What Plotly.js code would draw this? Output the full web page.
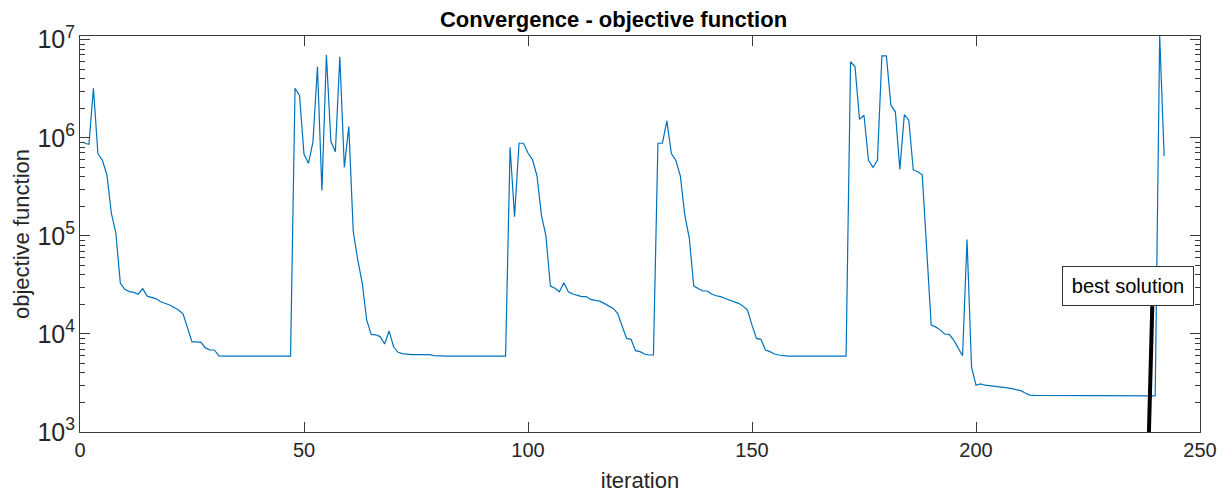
<!DOCTYPE html>
<html>
<head>
<meta charset="utf-8">
<script src="https://cdn.plot.ly/plotly-3.0.1.min.js"></script>
<style>
html,body{margin:0;padding:0;background:#fff;}
#chart{width:1227px;height:495px;}
</style>
</head>
<body>
<div id="chart"></div>
<script>
// Objective function value per iteration (iteration 1 .. 242)
const objective = [
  // iterations 1-47
  880000, 860000, 3200000, 690000, 590000, 420000, 170000, 107000, 33000, 28500,
  27000, 26500, 25400, 29000, 24300, 23700, 22800, 21300, 20500, 19700,
  18600, 17500, 16000, 11600, 8300, 8300, 8200, 7200, 6860, 6860,
  5960, 5950, 5950, 5950, 5950, 5950, 5950, 5950, 5950, 5950,
  5950, 5950, 5950, 5950, 5950, 5950, 5950,
  // iterations 48-95
  3200000, 2700000, 680000, 550000, 910000, 5300000, 290000, 7000000, 920000, 720000,
  6700000, 500000, 1300000, 110000, 57000, 33000, 13800, 9900, 9800, 9400,
  7900, 10700, 7400, 6500, 6300, 6200, 6150, 6150, 6150, 6150,
  6150, 6000, 5950, 5950, 5950, 5950, 5950, 5950, 5950, 5950,
  5950, 5950, 5950, 5950, 5950, 5950, 5950, 5950,
  // iterations 96-128
  800000, 157000, 880000, 880000, 700000, 600000, 410000, 163000, 100000, 30800,
  29200, 26900, 33300, 26900, 25500, 24800, 24000, 24000, 22500, 22000,
  21600, 20500, 19400, 18200, 16200, 11800, 9000, 8800, 6750, 6600,
  6240, 6100, 6100,
  // iterations 129-171
  880000, 880000, 1490000, 690000, 590000, 410000, 163000, 95000, 30800, 29200,
  27400, 27400, 25500, 24500, 24000, 23000, 22200, 21600, 20500, 19200,
  17500, 12300, 9000, 8800, 6850, 6600, 6240, 6100, 6000, 5950,
  5950, 5950, 5950, 5950, 5950, 5950, 5950, 5950, 5950, 5950,
  5950, 5950, 5950,
  // iterations 172-242
  5960000, 5300000, 1540000, 1700000, 590000, 500000, 590000, 6850000, 6850000, 2150000,
  1840000, 476000, 1720000, 1510000, 470000, 450000, 420000, 65000, 12300, 11800,
  11000, 9980, 9900, 8700, 7200, 6000, 92000, 4600, 3000, 3100,
  3000, 2970, 2930, 2900, 2860, 2820, 2770, 2720, 2640, 2500,
  2380, 2360, 2360, 2355, 2355, 2350, 2350, 2350, 2345, 2345,
  2345, 2340, 2340, 2340, 2340, 2335, 2335, 2335, 2335, 2335,
  2330, 2330, 2330, 2330, 2330, 2330, 2330, 2330, 2330, 11000000,
  650000
];

const titleText = 'Convergence - objective function';
const xLabel = 'iteration';
const yLabel = 'objective function';
const xTicks = [0, 50, 100, 150, 200, 250];
const yMajorTicks = [1e3, 1e4, 1e5, 1e6, 1e7];
const yMinorTicks = [
  2e3, 3e3, 4e3, 5e3, 6e3, 7e3, 8e3, 9e3,
  2e4, 3e4, 4e4, 5e4, 6e4, 7e4, 8e4, 9e4,
  2e5, 3e5, 4e5, 5e5, 6e5, 7e5, 8e5, 9e5,
  2e6, 3e6, 4e6, 5e6, 6e6, 7e6, 8e6, 9e6
];
const noteText = 'best solution';

const axisColor = '#3a3a3a';
const textColor = '#262626';
const font = 'Liberation Sans, Arial, Helvetica, sans-serif';

const mainTrace = {
  type: 'scatter',
  mode: 'lines',
  y: objective,
  x0: 1,
  dx: 1,
  line: {color: '#0072BD', width: 1.2},
  hoverinfo: 'x+y'
};

// transparent copies so the tick-only overlay axes get drawn
function ghost(axisId) {
  return {
    type: 'scatter', mode: 'lines', y: objective, x0: 1, dx: 1,
    yaxis: axisId, opacity: 0, line: {width: 0}, hoverinfo: 'skip', showlegend: false
  };
}

const yRange = [3, 7.038];

function tickAxis(side, vals, len, withLine) {
  return {
    type: 'log',
    range: yRange,
    overlaying: 'y',
    side: side,
    tickmode: 'array',
    tickvals: vals,
    ticks: 'inside',
    ticklen: len,
    tickwidth: 1,
    tickcolor: axisColor,
    showticklabels: false,
    showline: withLine,
    linecolor: axisColor,
    linewidth: 1,
    showgrid: false,
    zeroline: false
  };
}

const layout = {
  width: 1227,
  height: 495,
  margin: {l: 80, r: 27, t: 36, b: 63, pad: 0},
  paper_bgcolor: '#ffffff',
  plot_bgcolor: '#ffffff',
  showlegend: false,
  font: {family: font, color: textColor, size: 20},
  title: {
    text: '<b>' + titleText + '</b>',
    font: {family: font, size: 22, color: '#000000'},
    x: 0.5, xanchor: 'center',
    y: 0.962, yref: 'container', yanchor: 'middle'
  },
  xaxis: {
    range: [0, 250],
    tickmode: 'array',
    tickvals: xTicks,
    ticks: 'inside',
    ticklen: 10,
    tickwidth: 1,
    tickcolor: axisColor,
    showline: true,
    linecolor: axisColor,
    linewidth: 1,
    mirror: 'ticks',
    showgrid: false,
    zeroline: false,
    tickfont: {family: font, size: 20, color: textColor},
    title: {text: xLabel, font: {family: font, size: 22, color: textColor}, standoff: 12}
  },
  yaxis: {
    type: 'log',
    range: yRange,
    tickmode: 'linear',
    tick0: 0,
    dtick: 1,
    exponentformat: 'power',
    showexponent: 'all',
    ticks: 'inside',
    ticklen: 10,
    tickwidth: 1,
    tickcolor: axisColor,
    showline: true,
    linecolor: axisColor,
    linewidth: 1,
    showgrid: false,
    zeroline: false,
    tickfont: {family: font, size: 20, color: textColor},
    title: {text: yLabel, font: {family: font, size: 22, color: textColor}, standoff: 1}
  },
  yaxis2: tickAxis('left', yMinorTicks, 5, false),
  yaxis3: tickAxis('right', yMajorTicks, 10, true),
  yaxis4: tickAxis('right', yMinorTicks, 5, false),
  shapes: [{
    type: 'line',
    xref: 'x', yref: 'y',
    x0: 238.6, y0: 1000,
    x1: 239.35, y1: 19200,
    line: {color: '#000000', width: 4}
  }],
  annotations: [{
    text: noteText,
    xref: 'x', yref: 'y',
    x: 233.9, y: 4.491,
    xanchor: 'center', yanchor: 'middle',
    showarrow: false,
    font: {family: font, size: 20, color: '#000000'},
    bgcolor: '#ffffff',
    bordercolor: '#333333',
    borderwidth: 1,
    borderpad: 8,
    width: 114,
    height: 22
  }]
};

Plotly.newPlot('chart', [ghost('y2'), ghost('y3'), ghost('y4'), mainTrace], layout, {displayModeBar: false, staticPlot: true});
</script>
</body>
</html>
